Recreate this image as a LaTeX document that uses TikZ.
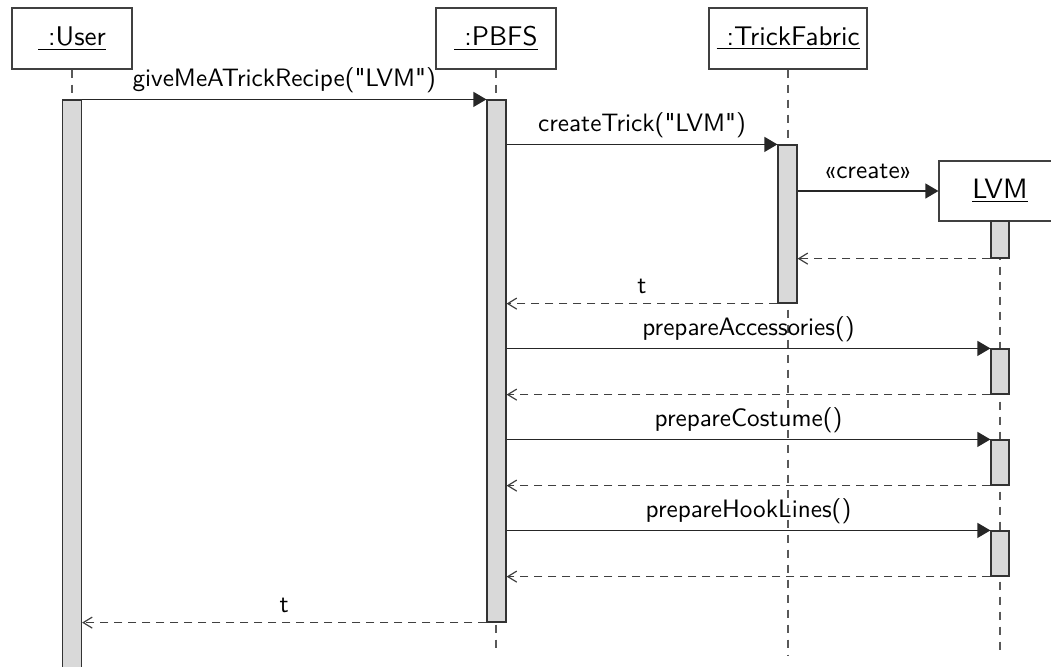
\documentclass[tikz,border=0pt]{standalone}
\usepackage{fontspec}
% sans face without TeX ligature mapping, so that " stays a straight quote
\newfontfamily\diagfont{lmsans10-regular}[Extension=.otf]
\usetikzlibrary{arrows.meta,fit,calc}
\begin{document}
\begin{tikzpicture}[x=0.5pt,y=-0.5pt,
  font=\diagfont\fontsize{12.6}{14}\selectfont,
  obj/.style={draw=black!75, line width=0.6pt, fill=white, minimum height=30.5pt, inner sep=0pt,
              font=\diagfont\fontsize{13.5}{15}\selectfont},
  bar/.style={draw=black!80, line width=0.6pt, fill=black!15, inner sep=0pt},
  life/.style={draw=black!65, line width=0.6pt, dash pattern=on 4pt off 3.5pt},
  msg/.style={draw=black!85, line width=0.6pt, -{Triangle[length=6.5pt,width=7.5pt]}},
  ret/.style={draw=black!75, line width=0.6pt, dash pattern=on 4pt off 3pt,
              -{Straight Barb[length=4.5pt,width=5.5pt]}},
  lbl/.style={midway, anchor=base, yshift=6.5pt, inner sep=0pt, text=black},
  tlbl/.style={lbl, yshift=-1.5pt}
]
\useasboundingbox (0,0) rectangle (1051,666);
\clip (0,0) rectangle (1051,666);

% participants
\node[obj, minimum width=60pt] (user) at (72,38.5) {\underline{\hspace*{5pt}:User}};
\node[obj, minimum width=60pt] (pbfs) at (496,38.5) {\underline{\hspace*{5pt}:PBFS}};
\node[obj, minimum width=79pt] (tf) at (788,38.5) {\underline{\hspace*{5pt}:TrickFabric}};
\node[obj, minimum width=61pt, minimum height=30pt, font=\diagfont\fontsize{14}{16}\selectfont]
  (lvm) at (1000,191) {\underline{LVM}};

% lifeline ends
\coordinate (pbfsend) at (496,652);
\coordinate (tfend) at (788,655);
\coordinate (lvmend) at (1000,655);
\coordinate (userend) at (72,700);

% lifelines
\draw[life] (user.south) -- (userend);
\draw[life] (pbfs.south) -- (pbfsend);
\draw[life] (tf.south) -- (tfend);
\draw[life] (lvm.south) -- (lvmend);

% activation bars
\node[bar, fit={(62.5,100)(81.5,700)}] (ub) {};
\node[bar, fit={(487,100)(506,622)}] (pb) {};
\node[bar, fit={(778,145)(797,303)}] (tb) {};
\node[bar, fit={(991,221)(1009,258)}] (lb0) {};
\node[bar, fit={(991,349)(1009,394)}] (lb1) {};
\node[bar, fit={(991,440)(1009,485)}] (lb2) {};
\node[bar, fit={(991,531)(1009,576)}] (lb3) {};

% messages
\draw[msg] (ub.north east) -- node[lbl]{giveMeATrickRecipe("LVM")} (pb.north west);
\draw[msg] (pb.east |- tb.north) -- node[lbl]{createTrick("LVM")} (tb.north west);
\draw[msg] (tb.east |- lvm.west) -- node[lbl]{«create»} (lvm.west);
\draw[ret] (lb0.south west) -- (tb.east |- lb0.south);
\draw[ret] (tb.south west) -- node[tlbl]{t} (pb.east |- tb.south);

\draw[msg] (pb.east |- lb1.north) -- node[lbl]{prepareAccessories()} (lb1.north west);
\draw[ret] (lb1.south west) -- (pb.east |- lb1.south);
\draw[msg] (pb.east |- lb2.north) -- node[lbl]{prepareCostume()} (lb2.north west);
\draw[ret] (lb2.south west) -- (pb.east |- lb2.south);
\draw[msg] (pb.east |- lb3.north) -- node[lbl]{prepareHookLines()} (lb3.north west);
\draw[ret] (lb3.south west) -- (pb.east |- lb3.south);

\draw[ret] (pb.south west) -- node[tlbl]{t} (ub.east |- pb.south);
\end{tikzpicture}
\end{document}
